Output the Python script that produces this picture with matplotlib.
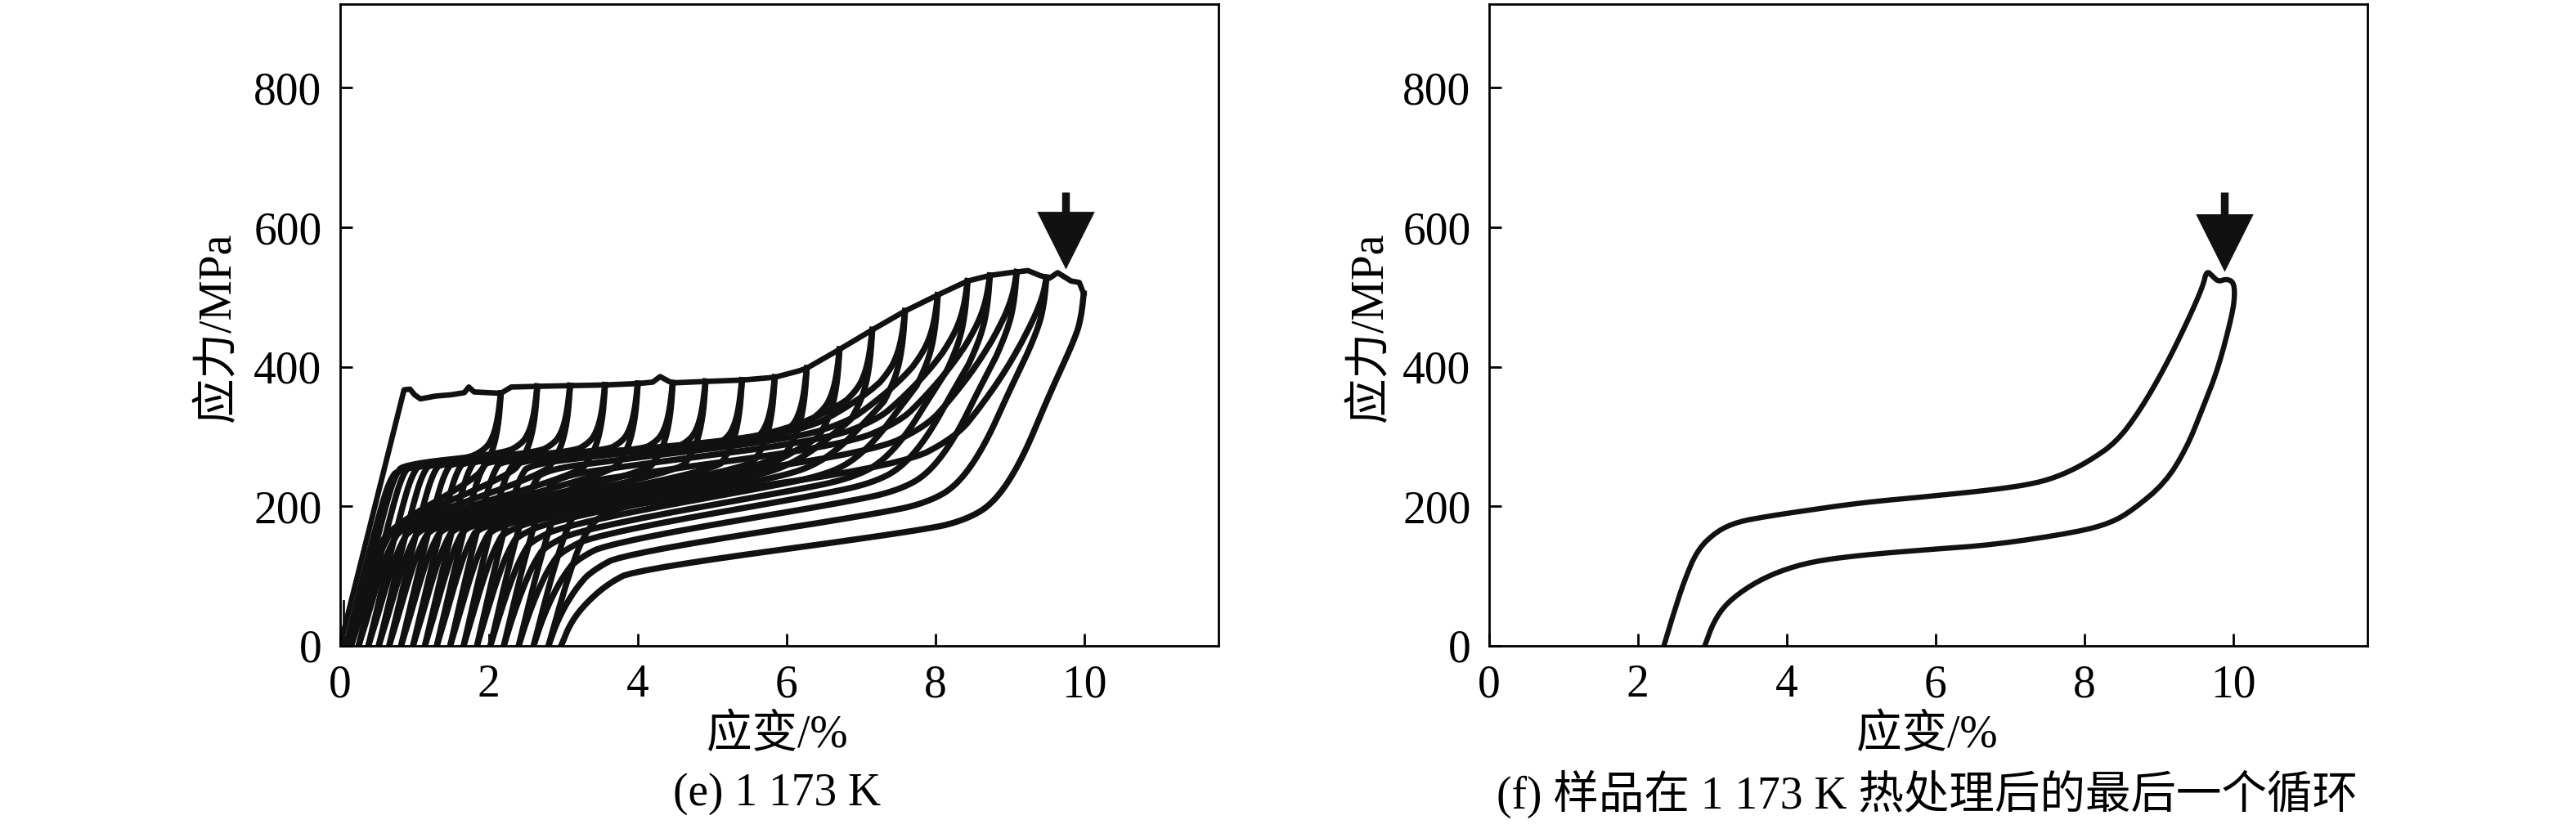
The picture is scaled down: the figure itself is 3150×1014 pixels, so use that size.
import numpy as np
import matplotlib.pyplot as plt
from matplotlib.transforms import offset_copy

plt.rcParams['font.family'] = ['Liberation Serif', 'Noto Sans CJK SC']
plt.rcParams['font.size'] = 20
plt.rcParams['axes.linewidth'] = 1.0

# ---- (e) 1 173 K : cyclic loading ----
# outer loading envelope (strain %, stress MPa)
env_strain = [0, 0.86, 0.94, 1.0, 1.08, 1.28, 1.5, 1.67, 1.73, 1.8, 2.16, 2.3, 2.65,
              3.09, 3.56, 4.0, 4.2, 4.3, 4.42, 4.47, 4.91, 5.4, 5.84, 6.16, 6.27,
              6.71, 7.15, 7.59, 8.03, 8.43, 8.73, 9.0, 9.09, 9.24, 9.4, 9.53, 9.64,
              9.82, 9.93, 9.99]
env_stress = [0, 367, 368, 360, 354, 358, 360, 363, 371, 364, 362, 371, 372,
              373, 374, 376, 378, 386, 379, 377, 379, 381, 385, 394, 398,
              425, 453, 480, 503, 523, 531, 535, 536, 538, 531, 527, 535,
              523, 521, 505]

# max strain of each cycle and strain left after unloading
peak_strain = [2.16, 2.65, 3.09, 3.56, 4.0, 4.47, 4.91, 5.4, 5.84, 6.27,
               6.71, 7.15, 7.59, 8.03, 8.43, 8.73, 9.09, 9.49, 9.99]
resid_strain = [0.08, 0.15, 0.25, 0.38, 0.52, 0.66, 0.82, 0.98, 1.14, 1.3,
                1.48, 1.66, 1.84, 2.02, 2.2, 2.4, 2.6, 2.8, 2.97]

# branch shapes read off the first and the last loops
# (offset from residual / offset from peak, fraction of peak stress)
unload_early_bot = [(0, 0), (0.12, 0.11), (0.25, 0.24), (0.4, 0.37), (0.6, 0.47)]
unload_early_top = [(0.35, 0.66), (0.2, 0.72), (0.1, 0.78), (0.03, 0.88), (0, 1.0)]
unload_late_bot = [(0, 0), (0.12, 0.062), (0.31, 0.116), (0.63, 0.176), (1.0, 0.216)]
unload_late_top = [(2.12, 0.328), (1.57, 0.358), (1.2, 0.406), (0.84, 0.522),
                   (0.47, 0.71), (0.1, 0.88), (0.03, 0.94), (0, 1.0)]
reload_early_bot = [(0, 0), (0.25, 0.3), (0.5, 0.58), (0.6, 0.66), (0.7, 0.70)]
reload_early_top = [(0.45, 0.74), (0.2, 0.78), (0.1, 0.83), (0.04, 0.9), (0, 1.0)]
reload_late_bot = [(0, 0), (0.13, 0.085), (0.27, 0.17), (0.45, 0.257), (0.72, 0.307),
                   (1.0, 0.33), (1.36, 0.344)]
reload_late_top = [(1.94, 0.455), (1.21, 0.543), (0.89, 0.634), (0.56, 0.742),
                   (0.27, 0.859), (0.05, 0.957), (0, 1.0)]

# ---- (f) last cycle after heat treatment ----
f_load_strain = [2.35, 2.48, 2.62, 2.80, 3.07, 3.35, 3.71, 4.07, 4.98, 5.89, 6.80,
                 7.35, 7.70, 8.05, 8.43, 8.75, 9.08, 9.37, 9.59, 9.64, 9.72, 9.8,
                 9.9, 10.0]
f_load_stress = [0, 46, 92, 138, 165, 178, 185, 191, 205, 214, 224,
                 233, 245, 264, 292, 338, 399, 462, 515, 538, 530, 522,
                 526, 522]
f_unload_strain = [10.02, 9.99, 9.8, 9.59, 9.37, 9.08, 8.64, 8.35, 7.9, 6.8, 5.9,
                   5.0, 4.35, 3.9, 3.53, 3.2, 3.02, 2.9]
f_unload_stress = [505, 477, 399, 341, 283, 233, 194, 176, 163, 145, 138,
                   130, 121, 107, 88, 62, 35, 0]

arrow_e = (9.75, 543)
arrow_f = (9.88, 540)
arrow_top = 651

xticks = [0, 2, 4, 6, 8, 10]
yticks = [0, 200, 400, 600, 800]


def chaikin(x, y, n=3):
    pts = np.column_stack([x, y]).astype(float)
    for _ in range(n):
        a = 0.75 * pts[:-1] + 0.25 * pts[1:]
        b = 0.25 * pts[:-1] + 0.75 * pts[1:]
        mid = np.empty((2 * len(a), 2))
        mid[0::2] = a
        mid[1::2] = b
        pts = np.vstack([pts[:1], mid, pts[-1:]])
    return pts[:, 0], pts[:, 1]


def branch(lo, hi, s, bot, top):
    xs = [lo + d for d, f in bot] + [hi - d for d, f in top]
    ys = [s * f for d, f in bot] + [s * f for d, f in top]
    return chaikin(np.array(xs), np.array(ys))


def blended(lo, hi, s, w, early, late):
    xe, ye = branch(lo, hi, s, *early)
    xl, yl = branch(lo, hi, s, *late)
    grid = np.union1d(np.linspace(lo, hi, 400), np.union1d(xe, xl))
    return grid, (1 - w) * np.interp(grid, xe, ye) + w * np.interp(grid, xl, yl)


def style(ax):
    ax.set_xlim(0, 11.8)
    ax.set_ylim(0, 920)
    ax.set_xticks(xticks)
    ax.set_yticks(yticks)
    ax.tick_params(direction='in', length=5.4, width=1.0, pad=8,
                   top=False, right=False, labelsize=20)


def arrow(ax, x, tip):
    ax.plot([x, x], [tip + 60, arrow_top], color='#111111', lw=3.4,
            solid_capstyle='butt')
    tr = offset_copy(ax.transData, fig=fig, y=12, units='points')
    ax.plot([x], [tip], marker='v', ms=24, color='#111111', transform=tr)


fig = plt.figure(figsize=(15.75, 5.07), dpi=200)
ax1 = fig.add_axes([0.132, 0.221, 0.341, 0.774])
ax2 = fig.add_axes([0.578, 0.221, 0.341, 0.774])

lc = '#111111'
lw_e = 2.7
ax1.plot(env_strain, env_stress, color=lc, lw=2.4)
ax1.plot([0.05, 0.05], [0, 64], color=lc, lw=1.0)
for i, (p, r) in enumerate(zip(peak_strain, resid_strain)):
    s = np.interp(p, env_strain, env_stress)
    w = np.clip((p - 6.0) / 4.0, 0, 1)
    x, y = blended(r, p, s, w, (unload_early_bot, unload_early_top),
                   (unload_late_bot, unload_late_top))
    ax1.plot(x, y, color=lc, lw=lw_e)
    if i > 0:
        p0, r0 = peak_strain[i - 1], resid_strain[i - 1]
        s0 = np.interp(p0, env_strain, env_stress)
        w0 = np.clip((p0 - 6.0) / 4.0, 0, 1)
        x, y = blended(r0, p0, s0, w0, (reload_early_bot, reload_early_top),
                       (reload_late_bot, reload_late_top))
        ax1.plot(x, y, color=lc, lw=lw_e)
arrow(ax1, *arrow_e)

fx, fy = chaikin(np.array(f_load_strain + f_unload_strain),
                 np.array(f_load_stress + f_unload_stress), n=2)
ax2.plot(fx, fy, color=lc, lw=2.3)
arrow(ax2, *arrow_f)

for ax in (ax1, ax2):
    style(ax)

fig.text(0.0846, 0.605, '应力/MPa', rotation=90, ha='center', va='center', fontsize=20)
fig.text(0.532, 0.605, '应力/MPa', rotation=90, ha='center', va='center', fontsize=20)
fig.text(0.3016, 0.113, '应变/%', ha='center', va='center', fontsize=20)
fig.text(0.748, 0.113, '应变/%', ha='center', va='center', fontsize=20)
fig.text(0.3016, 0.042, '(e) 1 173 K', ha='center', va='center', fontsize=20)
fig.text(0.748, 0.042, '(f) 样品在 1 173 K 热处理后的最后一个循环',
         ha='center', va='center', fontsize=20)

fig.savefig('out.png', dpi=200)
